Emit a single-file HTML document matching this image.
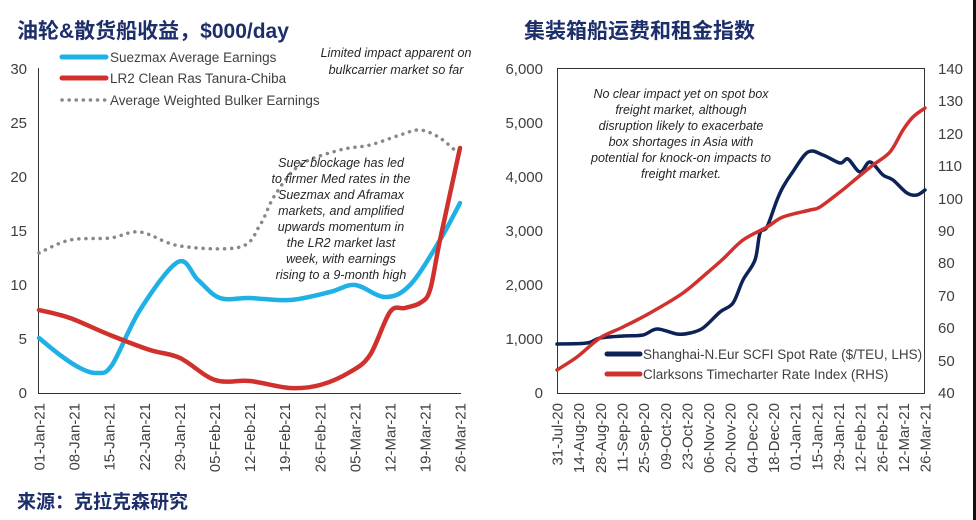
<!DOCTYPE html>
<html><head><meta charset="utf-8"><style>
body{margin:0;background:#fff;}
svg{display:block;font-family:"Liberation Sans","Noto Sans CJK SC",sans-serif;}
.t{font-family:"Liberation Sans","Noto Sans CJK SC",sans-serif;font-weight:bold;fill:#1d2f6b;}
.lab{font-size:15px;fill:#404040;}
.it{font-size:12.5px;font-style:italic;fill:#262626;}
</style></head><body>
<svg id="s" width="976" height="520" viewBox="0 0 976 520" xmlns="http://www.w3.org/2000/svg">
<rect width="976" height="520" fill="#fff"/>
<rect x="973" y="0" width="3" height="520" fill="#111"/>
<text class="t" x="17" y="38" font-size="21">油轮&amp;散货船收益，$000/day</text>
<text class="t" x="524" y="38" font-size="21">集装箱船运费和租金指数</text>
<text class="t" x="17" y="508" font-size="19">来源：克拉克森研究</text>
<line x1="38.5" y1="68" x2="38.5" y2="393" stroke="#333" stroke-width="1"/>
<line x1="38" y1="393.5" x2="461" y2="393.5" stroke="#333" stroke-width="1"/>
<g class="lab" text-anchor="end">
<text x="27" y="74">30</text><text x="27" y="128">25</text><text x="27" y="182">20</text>
<text x="27" y="236">15</text><text x="27" y="290">10</text><text x="27" y="344">5</text><text x="27" y="398">0</text>
</g>
<g id="lx" class="lab" text-anchor="end"></g>
<rect x="557.5" y="68.5" width="367" height="325" fill="none" stroke="#333" stroke-width="1"/>
<g class="lab" text-anchor="end">
<text x="543" y="74">6,000</text><text x="543" y="128">5,000</text><text x="543" y="182">4,000</text>
<text x="543" y="236">3,000</text><text x="543" y="290">2,000</text><text x="543" y="344">1,000</text><text x="543" y="398">0</text>
</g>
<g class="lab">
<text x="938" y="74">140</text><text x="938" y="106">130</text><text x="938" y="139">120</text><text x="938" y="171">110</text>
<text x="938" y="204">100</text><text x="938" y="236">90</text><text x="938" y="268">80</text><text x="938" y="301">70</text>
<text x="938" y="333">60</text><text x="938" y="366">50</text><text x="938" y="398">40</text>
</g>
<g id="rx" class="lab" text-anchor="end"></g>
<g id="lines"></g>
<line x1="62" y1="57" x2="106" y2="57" stroke="#1fb1e6" stroke-width="5" stroke-linecap="round"/>
<line x1="62" y1="78" x2="106" y2="78" stroke="#d0312d" stroke-width="5" stroke-linecap="round"/>
<line x1="62" y1="100" x2="106" y2="100" stroke="#888" stroke-width="3.5" stroke-dasharray="0.1 7" stroke-linecap="round"/>
<g class="lab" font-size="13" fill="#404040" style="font-size:13.5px">
<text x="110" y="62">Suezmax Average Earnings</text>
<text x="110" y="83">LR2 Clean Ras Tanura-Chiba</text>
<text x="110" y="105">Average Weighted Bulker Earnings</text>
</g>
<g class="it" text-anchor="middle">
<text x="396" y="57">Limited impact apparent on</text>
<text x="396" y="74">bulkcarrier market so far</text>
<text x="341" y="167">Suez blockage has led</text>
<text x="341" y="183">to firmer Med rates in the</text>
<text x="341" y="199">Suezmax and Aframax</text>
<text x="341" y="215">markets, and amplified</text>
<text x="341" y="231">upwards momentum in</text>
<text x="341" y="247">the LR2 market last</text>
<text x="341" y="263">week, with earnings</text>
<text x="341" y="279">rising to a 9-month high</text>
<text x="681" y="98">No clear impact yet on spot box</text>
<text x="681" y="114">freight market, although</text>
<text x="681" y="130">disruption likely to exacerbate</text>
<text x="681" y="146">box shortages in Asia with</text>
<text x="681" y="162">potential for knock-on impacts to</text>
<text x="681" y="178">freight market.</text>
</g>
<line x1="607" y1="354" x2="640" y2="354" stroke="#0d2357" stroke-width="5" stroke-linecap="round"/>
<line x1="607" y1="374" x2="640" y2="374" stroke="#d0312d" stroke-width="5" stroke-linecap="round"/>
<g class="lab" style="font-size:13.5px">
<text x="643" y="359">Shanghai-N.Eur SCFI Spot Rate ($/TEU, LHS)</text>
<text x="643" y="379">Clarksons Timecharter Rate Index (RHS)</text>
</g>
</svg>
<script>
var NS="http://www.w3.org/2000/svg";
function cr(p){var d="M"+p[0][0]+","+p[0][1];for(var i=0;i<p.length-1;i++){var a=p[i-1]||p[i],b=p[i],c=p[i+1],e=p[i+2]||c;
d+=" C"+(b[0]+(c[0]-a[0])/6).toFixed(1)+","+(b[1]+(c[1]-a[1])/6).toFixed(1)+" "+(c[0]-(e[0]-b[0])/6).toFixed(1)+","+(c[1]-(e[1]-b[1])/6).toFixed(1)+" "+c[0]+","+c[1];}return d;}
function add(p,col,w,dash){var e=document.createElementNS(NS,"path");e.setAttribute("d",cr(p));e.setAttribute("fill","none");e.setAttribute("stroke",col);e.setAttribute("stroke-width",w);e.setAttribute("stroke-linecap","round");e.setAttribute("stroke-linejoin","round");if(dash)e.setAttribute("stroke-dasharray",dash);document.getElementById("lines").appendChild(e);}
add([[39,253],[70,240],[110,238],[140,232],[180,246],[240,247],[260,225],[275,195],[300,165],[340,150],[370,145],[400,135],[420,130],[440,138],[460,155]],"#888",3.5,"0.1 7");
add([[39,338],[60,355],[80,368],[97,373],[112,365],[140,310],[178,262],[198,280],[220,298],[250,298],[290,300],[330,292],[355,285],[385,297],[410,285],[440,240],[460,203]],"#1fb1e6",4.5);
add([[39,310],[70,318],[110,335],[150,350],[180,358],[215,380],[250,381],[290,388],[320,385],[350,372],[370,355],[390,312],[405,308],[420,303],[430,290],[440,240],[460,148]],"#d0312d",4.5);
add([[557,344],[587,343],[600,338],[623,336],[643,335],[657,329],[677,334],[690,333],[703,328],[720,312],[733,303],[743,280],[755,260],[760,233],[767,227],[777,200],[783,187],[792,173],[808,152],[823,155],[840,163],[848,159],[860,172],[870,162],[883,175],[893,180],[907,193],[917,195],[925,190]],"#0d2357",3.5);
add([[557,370],[577,357],[600,338],[623,327],[650,313],[683,293],[707,273],[723,259],[743,240],[767,227],[783,217],[810,210],[820,207],[840,192],[857,178],[873,165],[890,152],[903,130],[913,117],[925,108]],"#d0312d",3.5);
function xl(id,labs,x0,dx){var g=document.getElementById(id);labs.forEach(function(t,i){var e=document.createElementNS(NS,"text");var x=x0+i*dx+5.5;e.setAttribute("transform","translate("+x.toFixed(1)+",403) rotate(-90)");e.textContent=t;g.appendChild(e);});}
xl("lx",["01-Jan-21","08-Jan-21","15-Jan-21","22-Jan-21","29-Jan-21","05-Feb-21","12-Feb-21","19-Feb-21","26-Feb-21","05-Mar-21","12-Mar-21","19-Mar-21","26-Mar-21"],39,35.1);
xl("rx",["31-Jul-20","14-Aug-20","28-Aug-20","11-Sep-20","25-Sep-20","09-Oct-20","23-Oct-20","06-Nov-20","20-Nov-20","04-Dec-20","18-Dec-20","01-Jan-21","15-Jan-21","29-Jan-21","12-Feb-21","26-Feb-21","12-Mar-21","26-Mar-21"],557,21.65);
</script>
</body></html>
